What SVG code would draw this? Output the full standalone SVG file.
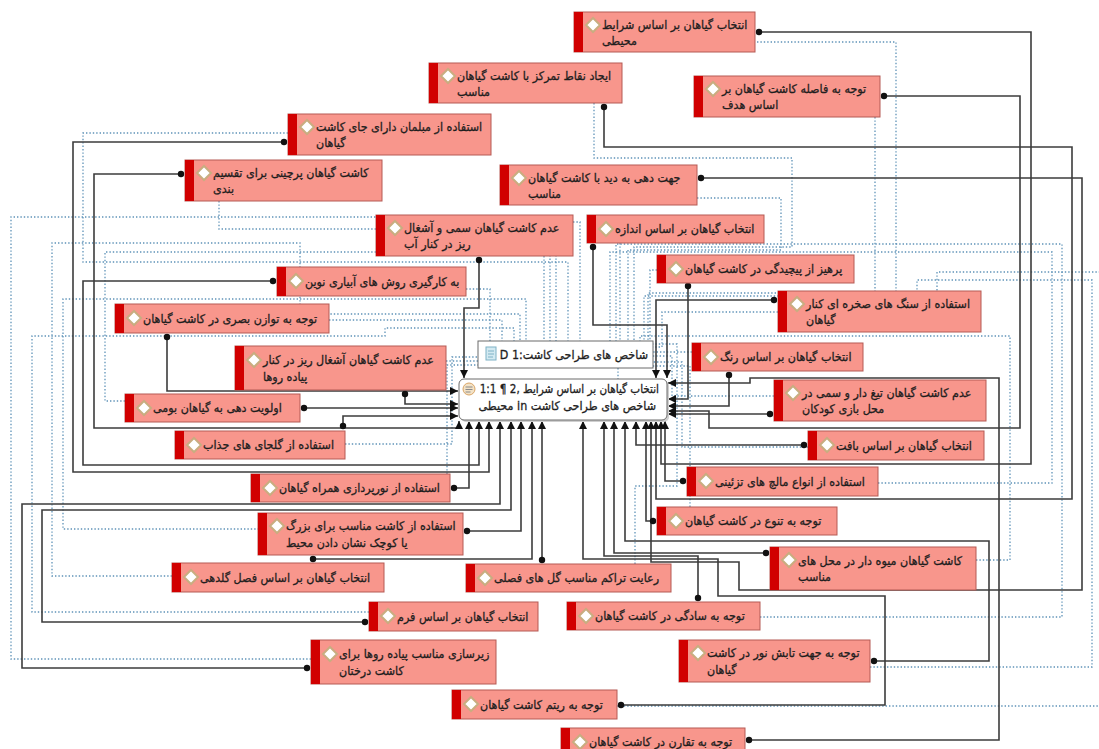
<svg xmlns="http://www.w3.org/2000/svg" width="1099" height="749" viewBox="0 0 1099 749">
<style>
.b{fill:#f8968c;stroke:#b55a55;stroke-width:1}
.bar{fill:#d10000}
.dm{fill:#fff;stroke:#c9ad80;stroke-width:2}
.t{font-family:"DejaVu Sans",sans-serif;font-size:12px;fill:#1e1e1e;stroke:#1e1e1e;stroke-width:0.3;direction:rtl;text-anchor:end}
.tc{font-family:"DejaVu Sans",sans-serif;font-size:12px;fill:#1e1e1e;stroke:#1e1e1e;stroke-width:0.3;direction:rtl;text-anchor:start}
.s{fill:none;stroke:#3c3c3c;stroke-width:1.6;marker-start:url(#dot);marker-end:url(#arr)}
.d{fill:none;stroke:#5f93b8;stroke-width:1.3;stroke-dasharray:1.4 2}
</style>
<defs>
<marker id="dot" markerUnits="userSpaceOnUse" markerWidth="8" markerHeight="8" refX="4" refY="4"><circle cx="4" cy="4" r="3.2" fill="#111"/></marker>
<marker id="arr" markerUnits="userSpaceOnUse" markerWidth="9" markerHeight="8" refX="8" refY="4" orient="auto"><path d="M0,0 L8,4 L0,8 z" fill="#111"/></marker>
</defs>
<rect width="1099" height="749" fill="#fff"/>
<g id="connectors">
<g id="dotted">
<path class="d" d="M757,42 H896 V293 H648 V341"/>
<path class="d" d="M875,117 V296 H644 V341"/>
<path class="d" d="M594,103 V158 H792 V247 H634 V341"/>
<path class="d" d="M697,198 H781 V250 H628 V341"/>
<path class="d" d="M620,243 V341"/>
<path class="d" d="M573,222 H580 V341"/>
<path class="d" d="M657,270 H650 V341"/>
<path class="d" d="M778,312 H662 V347 H653"/>
<path class="d" d="M692,352 H653"/>
<path class="d" d="M774,396 H672 V356 H653"/>
<path class="d" d="M808,447 H682 V362 H653"/>
<path class="d" d="M690,507 V366 H653"/>
<path class="d" d="M878,483 H1052 V252 H610 V341"/>
<path class="d" d="M976,560 H1010 V336 H640 V341"/>
<path class="d" d="M760,617 H1062 V244 H616 V341"/>
<path class="d" d="M870,667 H1092 V280 H917 V305"/>
<path class="d" d="M617,706 H1104 V272 H937 V305"/>
<path class="d" d="M288,133 H83 V262 H568 V341"/>
<path class="d" d="M219,201 V229 H556 V341"/>
<path class="d" d="M311,659 H11 V217 H550 V341"/>
<path class="d" d="M466,289 H490 V341"/>
<path class="d" d="M329,320 H502 V341"/>
<path class="d" d="M125,401 H105 V252 H544 V341"/>
<path class="d" d="M172,576 H52 V243 H300 V314 H520 V341"/>
<path class="d" d="M259,529 H63 V299 H526 V341"/>
<path class="d" d="M369,612 H32 V336 H385 V328 H514 V341"/>
<path class="d" d="M446,361 H478"/>
<path class="d" d="M345,444 H452 V357 H478"/>
<path class="d" d="M447,474 V365 H478"/>
<path class="d" d="M635,564 V486 H677 V344 H653"/>
<path class="d" d="M618,368 V379"/>
</g>
<g id="solid">
<path class="s" d="M759,32 H1031 V464 H661 V421"/>
<path class="s" d="M604,107 V147 H1072 V499 H656 V421"/>
<path class="s" d="M884,96 H1020 V428 H709 V411 H668"/>
<path class="s" d="M284,142 H73 V472 H489 V421"/>
<path class="s" d="M181,174 H94 V428 H459 V421"/>
<path class="s" d="M701,178 H1082 V590 H739 V562 H651 V421"/>
<path class="s" d="M479,260 V308 H464 V378"/>
<path class="s" d="M593,247 V325 H667 V378"/>
<path class="s" d="M688,286 V399 H668"/>
<path class="s" d="M273,281 H83 V465 H479 V421"/>
<path class="s" d="M774,300 H656 V378"/>
<path class="s" d="M167,337 V391 H458"/>
<path class="s" d="M405,394 V404 H458"/>
<path class="s" d="M729,375 V406 H668"/>
<path class="s" d="M770,414 H668"/>
<path class="s" d="M304,408 H458"/>
<path class="s" d="M343,426 V416 H458"/>
<path class="s" d="M804,445 H636 V421"/>
<path class="s" d="M683,481 H665 V421"/>
<path class="s" d="M454,488 H469 V421"/>
<path class="s" d="M467,531 H521 V421"/>
<path class="s" d="M653,521 H646 V421"/>
<path class="s" d="M766,553 H614 V421"/>
<path class="s" d="M313,559 H532 V421"/>
<path class="s" d="M542,560 V421"/>
<path class="s" d="M365,622 H42 V510 H511 V421"/>
<path class="s" d="M698,598 V556 H604 V421"/>
<path class="s" d="M307,668 H22 V504 H500 V421"/>
<path class="s" d="M874,661 H989 V541 H625 V421"/>
<path class="s" d="M621,705 H885 V596 H718 V559 H583 V421"/>
<path class="s" d="M749,740 H999 V378 H750 V383 H668"/>
</g>
</g>
<g id="d1">
<rect x="478" y="341" width="175" height="27" fill="#fff" stroke="#6b6b6b"/>
<rect x="486" y="347" width="10" height="13" fill="#d3eaf2" stroke="#7fb2c6"/>
<path d="M488,351 h6 M488,354 h6 M488,357 h5" stroke="#7fb2c6" stroke-width="1"/>
<g transform="translate(648 0) scale(0.93 1)"><text class="tc" x="0" y="359">شاخص های طراحی کاشت:D 1</text></g>
</g>
<g id="center">
<rect x="461" y="381" width="208" height="41" rx="5" fill="#cfcfcf"/>
<rect x="459" y="379" width="208" height="41" rx="5" fill="#fff" stroke="#6b6b6b"/>
<circle cx="469" cy="389" r="6" fill="#f3e2c6" stroke="#d9a566"/>
<path d="M465.5,387 h7 M465.5,389.5 h7 M465.5,392 h5" stroke="#8a8a8a" stroke-width="1"/>
<g transform="translate(659 0) scale(0.87 1)"><text class="tc" x="0" y="393">انتخاب گیاهان بر اساس شرایط ,2 ¶ 1:1</text></g>
<g transform="translate(656 0) scale(0.93 1)"><text class="tc" x="0" y="410">شاخص های طراحی کاشت in محیطی</text></g>
</g>
<g id="n1"><rect class="b" x="574" y="12" width="181" height="40"/><rect class="bar" x="574" y="12" width="9" height="40"/><path class="dm" d="M593,18 l7,7 -7,7 -7,-7z"/><g transform="translate(602 0) scale(0.93 1)"><text class="t" x="0" y="29">انتخاب گیاهان بر اساس شرایط</text><text class="t" x="0" y="45">محیطی</text></g></g>
<g id="n2"><rect class="b" x="429" y="63" width="193" height="40"/><rect class="bar" x="429" y="63" width="9" height="40"/><path class="dm" d="M448,69 l7,7 -7,7 -7,-7z"/><g transform="translate(457 0) scale(0.93 1)"><text class="t" x="0" y="80">ایجاد نقاط تمرکز با کاشت گیاهان</text><text class="t" x="0" y="96">مناسب</text></g></g>
<g id="n3"><rect class="b" x="694" y="76" width="186" height="41"/><rect class="bar" x="694" y="76" width="9" height="41"/><path class="dm" d="M713,82 l7,7 -7,7 -7,-7z"/><g transform="translate(722 0) scale(0.93 1)"><text class="t" x="0" y="93">توجه به فاصله کاشت گیاهان بر</text><text class="t" x="0" y="109">اساس هدف</text></g></g>
<g id="n4"><rect class="b" x="288" y="114" width="203" height="41"/><rect class="bar" x="288" y="114" width="9" height="41"/><path class="dm" d="M307,120 l7,7 -7,7 -7,-7z"/><g transform="translate(316 0) scale(0.93 1)"><text class="t" x="0" y="131">استفاده از مبلمان دارای جای کاشت</text><text class="t" x="0" y="147">گیاهان</text></g></g>
<g id="n5"><rect class="b" x="185" y="160" width="197" height="41"/><rect class="bar" x="185" y="160" width="9" height="41"/><path class="dm" d="M204,166 l7,7 -7,7 -7,-7z"/><g transform="translate(213 0) scale(0.93 1)"><text class="t" x="0" y="177">کاشت گیاهان پرچینی برای تقسیم</text><text class="t" x="0" y="193">بندی</text></g></g>
<g id="n6"><rect class="b" x="500" y="165" width="197" height="40"/><rect class="bar" x="500" y="165" width="9" height="40"/><path class="dm" d="M519,171 l7,7 -7,7 -7,-7z"/><g transform="translate(528 0) scale(0.93 1)"><text class="t" x="0" y="182">جهت دهی به دید با کاشت گیاهان</text><text class="t" x="0" y="198">مناسب</text></g></g>
<g id="n7"><rect class="b" x="376" y="215" width="197" height="41"/><rect class="bar" x="376" y="215" width="9" height="41"/><path class="dm" d="M395,221 l7,7 -7,7 -7,-7z"/><g transform="translate(404 0) scale(0.93 1)"><text class="t" x="0" y="232">عدم کاشت گیاهان سمی و آشغال</text><text class="t" x="0" y="248">ریز در کنار آب</text></g></g>
<g id="n8"><rect class="b" x="587" y="215" width="177" height="28"/><rect class="bar" x="587" y="215" width="9" height="28"/><path class="dm" d="M606,222 l7,7 -7,7 -7,-7z"/><g transform="translate(615 0) scale(0.93 1)"><text class="t" x="0" y="233">انتخاب گیاهان بر اساس اندازه</text></g></g>
<g id="n9"><rect class="b" x="657" y="255" width="197" height="28"/><rect class="bar" x="657" y="255" width="9" height="28"/><path class="dm" d="M676,262 l7,7 -7,7 -7,-7z"/><g transform="translate(685 0) scale(0.93 1)"><text class="t" x="0" y="273">پرهیز از پیچیدگی در کاشت گیاهان</text></g></g>
<g id="n10"><rect class="b" x="277" y="267" width="189" height="29"/><rect class="bar" x="277" y="267" width="9" height="29"/><path class="dm" d="M296,274 l7,7 -7,7 -7,-7z"/><g transform="translate(305 0) scale(0.93 1)"><text class="t" x="0" y="286">به کارگیری روش های آبیاری نوین</text></g></g>
<g id="n11"><rect class="b" x="778" y="291" width="203" height="41"/><rect class="bar" x="778" y="291" width="9" height="41"/><path class="dm" d="M797,297 l7,7 -7,7 -7,-7z"/><g transform="translate(806 0) scale(0.93 1)"><text class="t" x="0" y="308">استفاده از سنگ های صخره ای کنار</text><text class="t" x="0" y="324">گیاهان</text></g></g>
<g id="n12"><rect class="b" x="115" y="304" width="214" height="29"/><rect class="bar" x="115" y="304" width="9" height="29"/><path class="dm" d="M134,311 l7,7 -7,7 -7,-7z"/><g transform="translate(143 0) scale(0.93 1)"><text class="t" x="0" y="323">توجه به توازن بصری در کاشت گیاهان</text></g></g>
<g id="n13"><rect class="b" x="235" y="346" width="211" height="44"/><rect class="bar" x="235" y="346" width="9" height="44"/><path class="dm" d="M254,353 l7,7 -7,7 -7,-7z"/><g transform="translate(263 0) scale(0.93 1)"><text class="t" x="0" y="364">عدم کاشت گیاهان آشغال ریز در کنار</text><text class="t" x="0" y="381">پیاده روها</text></g></g>
<g id="n14"><rect class="b" x="692" y="343" width="171" height="28"/><rect class="bar" x="692" y="343" width="9" height="28"/><path class="dm" d="M711,350 l7,7 -7,7 -7,-7z"/><g transform="translate(720 0) scale(0.93 1)"><text class="t" x="0" y="361">انتخاب گیاهان بر اساس رنگ</text></g></g>
<g id="n15"><rect class="b" x="774" y="380" width="212" height="41"/><rect class="bar" x="774" y="380" width="9" height="41"/><path class="dm" d="M793,386 l7,7 -7,7 -7,-7z"/><g transform="translate(802 0) scale(0.93 1)"><text class="t" x="0" y="397">عدم کاشت گیاهان تیغ دار و سمی در</text><text class="t" x="0" y="413">محل بازی کودکان</text></g></g>
<g id="n16"><rect class="b" x="125" y="394" width="175" height="28"/><rect class="bar" x="125" y="394" width="9" height="28"/><path class="dm" d="M144,401 l7,7 -7,7 -7,-7z"/><g transform="translate(153 0) scale(0.93 1)"><text class="t" x="0" y="412">اولویت دهی به گیاهان بومی</text></g></g>
<g id="n17"><rect class="b" x="175" y="431" width="170" height="28"/><rect class="bar" x="175" y="431" width="9" height="28"/><path class="dm" d="M194,438 l7,7 -7,7 -7,-7z"/><g transform="translate(203 0) scale(0.93 1)"><text class="t" x="0" y="449">استفاده از گلجای های جذاب</text></g></g>
<g id="n18"><rect class="b" x="808" y="431" width="176" height="29"/><rect class="bar" x="808" y="431" width="9" height="29"/><path class="dm" d="M827,438 l7,7 -7,7 -7,-7z"/><g transform="translate(836 0) scale(0.93 1)"><text class="t" x="0" y="450">انتخاب گیاهان بر اساس بافت</text></g></g>
<g id="n19"><rect class="b" x="687" y="467" width="191" height="29"/><rect class="bar" x="687" y="467" width="9" height="29"/><path class="dm" d="M706,474 l7,7 -7,7 -7,-7z"/><g transform="translate(715 0) scale(0.93 1)"><text class="t" x="0" y="486">استفاده از انواع مالچ های تزئینی</text></g></g>
<g id="n20"><rect class="b" x="251" y="474" width="199" height="28"/><rect class="bar" x="251" y="474" width="9" height="28"/><path class="dm" d="M270,481 l7,7 -7,7 -7,-7z"/><g transform="translate(279 0) scale(0.93 1)"><text class="t" x="0" y="492">استفاده از نورپردازی همراه گیاهان</text></g></g>
<g id="n21"><rect class="b" x="258" y="513" width="205" height="42"/><rect class="bar" x="258" y="513" width="9" height="42"/><path class="dm" d="M277,519 l7,7 -7,7 -7,-7z"/><g transform="translate(286 0) scale(0.93 1)"><text class="t" x="0" y="530">استفاده از کاشت مناسب برای بزرگ</text><text class="t" x="0" y="547">یا کوچک نشان دادن محیط</text></g></g>
<g id="n22"><rect class="b" x="657" y="507" width="180" height="28"/><rect class="bar" x="657" y="507" width="9" height="28"/><path class="dm" d="M676,514 l7,7 -7,7 -7,-7z"/><g transform="translate(685 0) scale(0.93 1)"><text class="t" x="0" y="525">توجه به تنوع در کاشت گیاهان</text></g></g>
<g id="n23"><rect class="b" x="770" y="547" width="206" height="43"/><rect class="bar" x="770" y="547" width="9" height="43"/><path class="dm" d="M789,553 l7,7 -7,7 -7,-7z"/><g transform="translate(798 0) scale(0.93 1)"><text class="t" x="0" y="565">کاشت گیاهان میوه دار در محل های</text><text class="t" x="0" y="581">مناسب</text></g></g>
<g id="n24"><rect class="b" x="172" y="563" width="212" height="29"/><rect class="bar" x="172" y="563" width="9" height="29"/><path class="dm" d="M191,570 l7,7 -7,7 -7,-7z"/><g transform="translate(200 0) scale(0.93 1)"><text class="t" x="0" y="582">انتخاب گیاهان بر اساس فصل گلدهی</text></g></g>
<g id="n25"><rect class="b" x="466" y="564" width="205" height="28"/><rect class="bar" x="466" y="564" width="9" height="28"/><path class="dm" d="M485,571 l7,7 -7,7 -7,-7z"/><g transform="translate(494 0) scale(0.93 1)"><text class="t" x="0" y="582">رعایت تراکم مناسب گل های فصلی</text></g></g>
<g id="n26"><rect class="b" x="369" y="602" width="169" height="29"/><rect class="bar" x="369" y="602" width="9" height="29"/><path class="dm" d="M388,609 l7,7 -7,7 -7,-7z"/><g transform="translate(397 0) scale(0.93 1)"><text class="t" x="0" y="621">انتخاب گیاهان بر اساس فرم</text></g></g>
<g id="n27"><rect class="b" x="567" y="602" width="193" height="28"/><rect class="bar" x="567" y="602" width="9" height="28"/><path class="dm" d="M586,609 l7,7 -7,7 -7,-7z"/><g transform="translate(595 0) scale(0.93 1)"><text class="t" x="0" y="620">توجه به سادگی در کاشت گیاهان</text></g></g>
<g id="n28"><rect class="b" x="311" y="640" width="185" height="44"/><rect class="bar" x="311" y="640" width="9" height="44"/><path class="dm" d="M330,647 l7,7 -7,7 -7,-7z"/><g transform="translate(339 0) scale(0.93 1)"><text class="t" x="0" y="658">زیرسازی مناسب پیاده روها برای</text><text class="t" x="0" y="675">کاشت درختان</text></g></g>
<g id="n29"><rect class="b" x="679" y="640" width="191" height="42"/><rect class="bar" x="679" y="640" width="9" height="42"/><path class="dm" d="M698,646 l7,7 -7,7 -7,-7z"/><g transform="translate(707 0) scale(0.93 1)"><text class="t" x="0" y="657">توجه به جهت تابش نور در کاشت</text><text class="t" x="0" y="674">گیاهان</text></g></g>
<g id="n30"><rect class="b" x="452" y="690" width="165" height="29"/><rect class="bar" x="452" y="690" width="9" height="29"/><path class="dm" d="M471,697 l7,7 -7,7 -7,-7z"/><g transform="translate(480 0) scale(0.93 1)"><text class="t" x="0" y="709">توجه به ریتم کاشت گیاهان</text></g></g>
<g id="n31"><rect class="b" x="561" y="728" width="184" height="30"/><rect class="bar" x="561" y="728" width="9" height="30"/><path class="dm" d="M580,735 l7,7 -7,7 -7,-7z"/><g transform="translate(589 0) scale(0.93 1)"><text class="t" x="0" y="746">توجه به تقارن در کاشت گیاهان</text></g></g>
</svg>
